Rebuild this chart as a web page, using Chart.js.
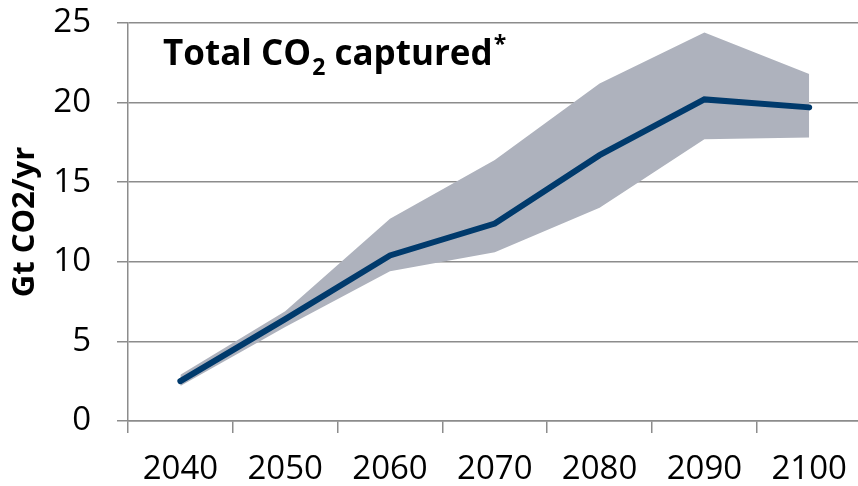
<!DOCTYPE html>
<html>
<head>
<meta charset="utf-8">
<script src="https://cdn.jsdelivr.net/npm/chart.js@4/dist/chart.umd.min.js"></script>
<style>
html, body { margin: 0; padding: 0; background: #fff; overflow: hidden; }
#wrap { width: 864px; height: 486px; position: relative; }
</style>
</head>
<body>
<div id="wrap"><canvas id="myChart"></canvas></div>
<script>
var years = ['2040', '2050', '2060', '2070', '2080', '2090', '2100'];
var captured = [2.5, 6.4, 10.4, 12.4, 16.7, 20.2, 19.7];
var upperRange = [2.9, 6.9, 12.7, 16.4, 21.2, 24.4, 21.8];
var lowerRange = [2.2, 5.9, 9.4, 10.6, 13.4, 17.7, 17.8];
var yMin = 0, yMax = 25, yStep = 5;

var FONT = '"Open Sans", "Noto Sans", sans-serif';
var gridColor = '#8c8c8c';

// title with subscript 2 and a superscript asterisk
var titlePlugin = {
	id: 'titleText',
	afterDraw: function(chart){
		var c = chart.ctx,
			x = chart.chartArea.left + 35,
			y = chart.chartArea.top + 42;
		c.save();
		c.fillStyle = '#000';
		c.textBaseline = 'alphabetic';
		c.textAlign = 'left';
		c.font = 'bold 35px ' + FONT;
		c.fillText('Total CO', x, y);
		x += c.measureText('Total CO').width + 1;
		c.font = 'bold 23px ' + FONT;
		c.fillText('2', x, y + 10);
		x += c.measureText('2').width;
		c.font = 'bold 35px ' + FONT;
		c.fillText(' captured', x, y);
		x += c.measureText(' captured').width + 1;
		c.font = 'bold 23px ' + FONT;
		c.fillText('*', x, y - 13);
		c.restore();
	}
};

var ctx = document.getElementById('myChart');
var myChart = new Chart(ctx, {
	type: 'line',
	data: {
		labels: years,
		datasets: [{
			label: 'Total CO2 captured',
			data: captured,
			borderColor: '#003a6c',
			borderWidth: 6,
			borderCapStyle: 'round',
			pointRadius: 0,
			fill: false,
			tension: 0
		}, {
			label: 'upper',
			data: upperRange,
			borderColor: 'transparent',
			borderWidth: 0,
			backgroundColor: '#aeb2bd',
			pointRadius: 0,
			fill: '+1',
			tension: 0
		}, {
			label: 'lower',
			data: lowerRange,
			borderColor: 'transparent',
			borderWidth: 0,
			pointRadius: 0,
			fill: false,
			tension: 0
		}]
	},
	options: {
		responsive: true,
		maintainAspectRatio: false,
		animation: false,
		layout: { padding: { top: 23, left: 0, right: 1, bottom: 0 } },
		plugins: {
			legend: { display: false },
			tooltip: { enabled: false }
		},
		scales: {
			x: {
				type: 'category',
				offset: true,
				afterFit: function(scale){ scale.height = 65; },
				grid: {
					offset: true,
					drawOnChartArea: false,
					drawTicks: true,
					tickLength: 12,
					color: gridColor,
					lineWidth: 1.5
				},
				border: { display: true, color: gridColor, width: 1.5 },
				ticks: {
					color: '#000',
					font: { family: FONT, size: 33 },
					padding: 17,
					maxRotation: 0,
					autoSkip: false
				}
			},
			y: {
				min: yMin,
				max: yMax,
				afterFit: function(scale){
					scale.width = 128;
					scale.paddingTop = 20;
					scale.paddingBottom = 0;
				},
				grid: {
					color: gridColor,
					lineWidth: 1.5,
					tickLength: 11
				},
				border: { display: true, color: gridColor, width: 1.5 },
				ticks: {
					stepSize: yStep,
					color: '#000',
					font: { family: FONT, size: 33 },
					padding: 26
				},
				title: {
					display: true,
					text: 'Gt CO2/yr',
					color: '#000',
					font: { family: FONT, size: 31, weight: 'bold' },
					padding: { top: 7, bottom: 0 }
				}
			}
		}
	},
	plugins: [titlePlugin]
});
</script>
</body>
</html>
